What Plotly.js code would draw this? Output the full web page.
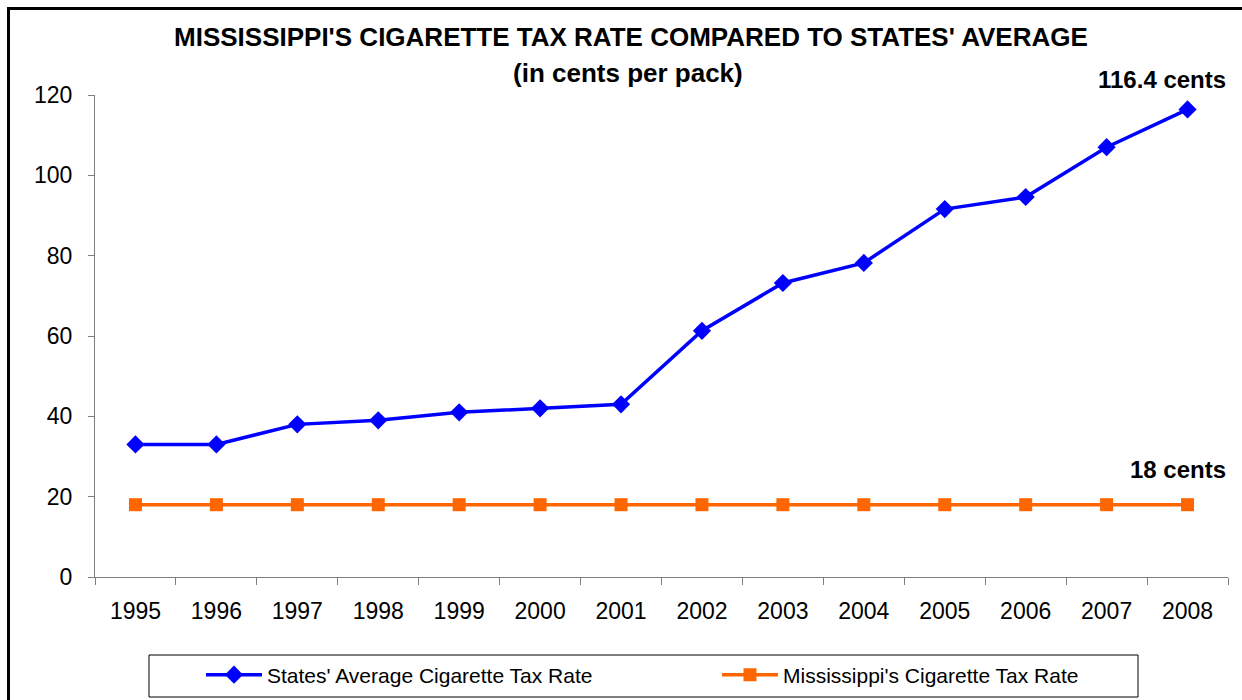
<!DOCTYPE html>
<html>
<head>
<meta charset="utf-8">
<script src="https://cdn.plot.ly/plotly-3.0.1.min.js"></script>
<style>
html,body{margin:0;padding:0;background:#fff;}
#wrap{position:relative;width:1242px;height:700px;overflow:hidden;}
#chart{width:1242px;height:700px;}
#frame{position:absolute;left:7px;top:7px;width:1300px;height:800px;border-left:3px solid #000;border-top:3px solid #000;pointer-events:none;}
</style>
</head>
<body>
<div id="wrap"><div id="chart"></div><div id="frame"></div></div>
<script>
var years = ['1995','1996','1997','1998','1999','2000','2001','2002','2003','2004','2005','2006','2007','2008'];
var statesAverage = [33, 33, 38, 39, 41, 42, 43, 61.3, 73.2, 78.2, 91.6, 94.6, 107, 116.4];
var mississippi = [18, 18, 18, 18, 18, 18, 18, 18, 18, 18, 18, 18, 18, 18];
var seriesNames = ["States' Average Cigarette Tax Rate", "Mississippi's Cigarette Tax Rate"];
var titleLine1 = "MISSISSIPPI'S CIGARETTE TAX RATE COMPARED TO STATES' AVERAGE";
var titleLine2 = "(in cents per pack)";
var endLabels = ['116.4 cents', '18 cents'];

var font = "Liberation Sans, Arial, sans-serif";
var last = years.length - 1;

var traces = [
  {x: years, y: statesAverage, name: seriesNames[0], type: 'scatter', mode: 'lines+markers', legend: 'legend',
   line: {color: '#0000FF', width: 3.5}, marker: {symbol: 'diamond', size: 14, color: '#0000FF'}},
  {x: years, y: mississippi, name: seriesNames[1], type: 'scatter', mode: 'lines+markers', legend: 'legend2',
   line: {color: '#FF6600', width: 3.5}, marker: {symbol: 'square', size: 13, color: '#FF6600'}}
];

var W = 1133, H = 482, L = 95, T = 95;
function px(x) { return (x - L) / W; }
function py(y) { return (T + H - y) / H; }

var legendFont = {family: font, size: 21, color: '#000'};

var layout = {
  width: 1242, height: 700,
  paper_bgcolor: '#fff', plot_bgcolor: '#fff',
  margin: {l: L, r: 1242 - L - W, t: T, b: 700 - T - H, autoexpand: false},
  font: {family: font, color: '#000', size: 23},
  showlegend: true,
  legend: {orientation: 'h', x: px(201), xanchor: 'left', y: py(675), yanchor: 'middle', itemwidth: 56,
           font: legendFont, bgcolor: 'rgba(0,0,0,0)', borderwidth: 0},
  legend2: {orientation: 'h', x: px(717), xanchor: 'left', y: py(675), yanchor: 'middle', itemwidth: 56,
           font: legendFont, bgcolor: 'rgba(0,0,0,0)', borderwidth: 0},
  xaxis: {type: 'category', range: [-0.5, 13.5], autorange: false, showgrid: false, zeroline: false,
          showline: true, linecolor: '#7f7f7f', linewidth: 1, automargin: false,
          ticks: 'outside', tickson: 'boundaries', ticklen: 7, tickcolor: '#7f7f7f', tickangle: 0,
          tickfont: {family: font, size: 23, color: '#000'}, ticklabelstandoff: 13, fixedrange: true},
  yaxis: {range: [0, 120], autorange: false, dtick: 20, showgrid: false, zeroline: false, showline: true,
          linecolor: '#7f7f7f', linewidth: 1, automargin: false,
          ticks: 'outside', ticklen: 6, tickcolor: '#7f7f7f', tickfont: {family: font, size: 23, color: '#000'},
          ticklabelstandoff: 11, fixedrange: true},
  shapes: [
    {type: 'rect', xref: 'paper', yref: 'paper', x0: px(149), x1: px(1138),
     y0: py(697), y1: py(655), line: {color: '#000', width: 1}, fillcolor: 'rgba(0,0,0,0)'}
  ],
  annotations: [
    {xref: 'paper', yref: 'paper', x: px(631), y: py(37), xanchor: 'center', yanchor: 'middle', showarrow: false,
     text: '<b>' + titleLine1 + '</b>', font: {family: font, size: 26, color: '#000'}},
    {xref: 'paper', yref: 'paper', x: px(628), y: py(73), xanchor: 'center', yanchor: 'middle', showarrow: false,
     text: '<b>' + titleLine2 + '</b>', font: {family: font, size: 26, color: '#000'}},
    {x: last, y: statesAverage[last], xref: 'x', yref: 'y', text: '<b>' + endLabels[0] + '</b>', showarrow: false,
     xshift: -26, yshift: 30, font: {family: font, size: 24, color: '#000'}},
    {x: last, y: mississippi[last], xref: 'x', yref: 'y', text: '<b>' + endLabels[1] + '</b>', showarrow: false,
     xshift: -10, yshift: 35, font: {family: font, size: 24, color: '#000'}}
  ]
};

Plotly.newPlot('chart', traces, layout, {displayModeBar: false, staticPlot: true});
</script>
</body>
</html>
